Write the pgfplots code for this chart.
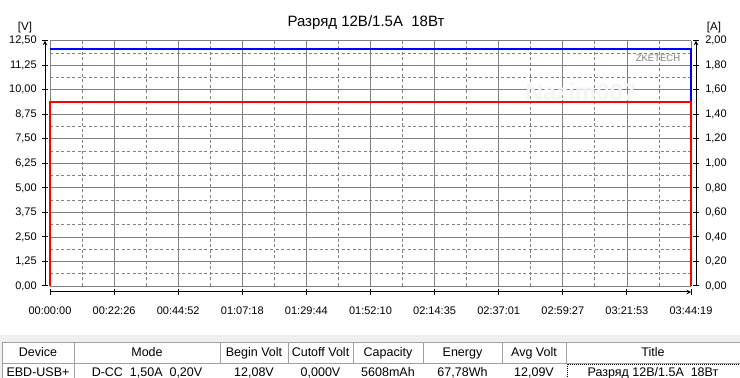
\documentclass[border=0pt]{standalone}
\usepackage{pgfplots}
\pgfplotsset{compat=1.18}
\usepackage{fontspec}
\setmainfont{Liberation Sans}
\definecolor{gridgray}{HTML}{808080}
\definecolor{vblue}{HTML}{0000FF}
\definecolor{ired}{HTML}{FF0000}
\definecolor{band}{HTML}{F0F0F0}
\definecolor{cellborder}{HTML}{A0A0A0}
\begin{document}
\begin{tikzpicture}
\path[use as bounding box] (0pt,0pt) rectangle (740pt,378pt);
\pgfplotsset{
  common/.style={
    at={(50pt,92pt)}, anchor=south west, scale only axis,
    width=641pt, height=245.3pt,
    xmin=0, xmax=13459, ymin=0,
    clip=false, scaled x ticks=false, scaled y ticks=false,
    tick align=outside, major tick length=5.5pt, minor tick length=0pt,
    axis line style={-, black, line width=1pt},
    every outer x axis line/.append style={-},
    every outer y axis line/.append style={-},
    tick style={black, line width=1pt},
    major tick style={black, line width=1pt},
    tick label style={font=\fontsize{11}{13}\selectfont},
    /pgf/number format/assume math mode=true,
    /pgf/number format/.cd, fixed, fixed zerofill, precision=2, use comma, 1000 sep={},
  }
}
\begin{axis}[common,
  ymax=12.5,
  axis x line=bottom, axis y line=left,
  axis x line shift=6pt, axis y line shift=5pt,
  x tick label style={yshift=-9pt},
  y tick label style={xshift=-2pt},
  xtick={0,1345.9,2691.8,4037.7,5383.6,6729.5,8075.4,9421.3,10767.2,12113.1,13459},
  xticklabels={00:00:00,00:22:26,00:44:52,01:07:18,01:29:44,01:52:10,02:14:35,02:37:01,02:59:27,03:21:53,03:44:19},
  minor xtick={672.95,2018.85,3364.75,4710.65,6056.55,7402.45,8748.35,10094.25,11440.15,12786.05},
  ytick={0,1.25,2.5,3.75,5,6.25,7.5,8.75,10,11.25,12.5},
  minor ytick={0.625,1.875,3.125,4.375,5.625,6.875,8.125,9.375,10.625,11.875},
  grid=both,
  major grid style={gridgray, line width=0.8pt},
  minor grid style={gridgray, line width=0.8pt, dash pattern=on 3pt off 2.5pt},
]
\addplot[vblue, line width=1.7pt] coordinates {(0,12.08) (13459,12.08) (13459,0)};
\end{axis}
\begin{axis}[common,
  ymax=2,
  axis x line=none, axis y line=right,
  axis y line shift=5pt,
  y tick label style={xshift=3pt},
  ytick={0,0.2,0.4,0.6,0.8,1.0,1.2,1.4,1.6,1.8,2.0},
]
\addplot[ired, line width=2.2pt] coordinates {(0,0) (0,1.5) (13459,1.5) (13459,0)};
\end{axis}
\begin{scope}[x=1pt,y=1pt]
% labels
\node[anchor=base, font=\fontsize{15}{17}\selectfont] at (366,351.3) {Разряд 12В/1.5А\ \ 18Вт};
\node[anchor=base, font=\fontsize{11.5}{13}\selectfont] at (25,347) {[V]};
\node[anchor=base, font=\fontsize{11.5}{13}\selectfont] at (714,347) {[A]};
\node[anchor=base, font=\fontsize{9.5}{11}\selectfont, text=gridgray] at (658,316.3) {ZKETECH};
\node[font=\bfseries\fontsize{24}{28}\selectfont, text=black!4] at (581,286) {Nazim007};
% table
\fill[band] (0,0) rectangle (740,43);
\foreach \a/\b in {2/74,74/220,220/288,288/353,353/423,423/502,502/566,566/745}{
  \filldraw[fill=white, draw=cellborder, line width=0.8pt] (\a,15) rectangle (\b,36);
}
\filldraw[fill=white, draw=cellborder, line width=0.8pt] (2,-2) rectangle (745,15);
\draw[cellborder, line width=0.8pt] (74,-2) -- (74,15);
\draw[black, line width=0.8pt, dash pattern=on 1pt off 1pt] (567,-1) rectangle (745,14);
\begin{scope}[every node/.style={anchor=base, font=\fontsize{12.5}{14}\selectfont}]
\node at (38,21.3) {Device};
\node at (147,21.3) {Mode};
\node at (254,21.3) {Begin Volt};
\node at (320.5,21.3) {Cutoff Volt};
\node at (388,21.3) {Capacity};
\node at (462.5,21.3) {Energy};
\node at (534,21.3) {Avg Volt};
\node at (653,21.3) {Title};
\node at (38,1.3) {EBD-USB+};
\node at (147,1.3) {D-CC\ \ 1,50A\ \ 0,20V};
\node at (254,1.3) {12,08V};
\node at (320.5,1.3) {0,000V};
\node at (388,1.3) {5608mAh};
\node at (462.5,1.3) {67,78Wh};
\node at (534,1.3) {12,09V};
\node at (653,1.3) {Разряд 12В/1.5А\ \ 18Вт};
\end{scope}
\end{scope}
\end{tikzpicture}
\end{document}
